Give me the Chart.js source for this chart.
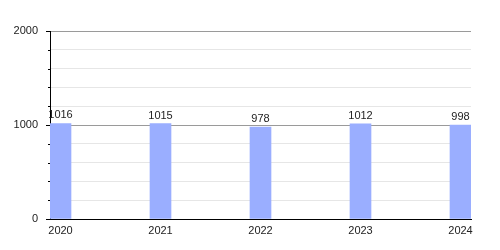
<!DOCTYPE html>
<html>
<head>
<meta charset="utf-8">
<script src="https://cdn.jsdelivr.net/npm/chart.js@4.4.0/dist/chart.umd.min.js"></script>
<style>
    html, body { margin: 0; padding: 0; background: #fff; }
    canvas { display: block; }
</style>
</head>
<body>
<canvas id="chart" width="500" height="250"></canvas>
<script>
const years = [2020, 2021, 2022, 2023, 2024];
const values = [1016, 1015, 978, 1012, 998];
const yMax = 2000;
const yMajorStep = 1000;
const yMinorStep = 200;

// value labels above bars + short minor tick marks on the y axis
const valueLabels = {
    id: 'valueLabels',
    afterDatasetsDraw(chart) {
        const ctx = chart.ctx;
        const meta = chart.getDatasetMeta(0);
        ctx.save();
        ctx.font = '11px "Liberation Sans", Arial, sans-serif';
        ctx.fillStyle = '#222';
        ctx.textAlign = 'center';
        ctx.textBaseline = 'alphabetic';
        meta.data.forEach((bar, i) => {
            ctx.fillText(String(values[i]), bar.x, bar.y - 5);
        });

        const y = chart.scales.y;
        const left = chart.chartArea.left;
        ctx.strokeStyle = '#000';
        ctx.lineWidth = 1;
        ctx.beginPath();
        for (let v = yMinorStep; v < yMax; v += yMinorStep) {
            if (v % yMajorStep === 0) continue;
            const py = Math.round(y.getPixelForValue(v)) + 0.5;
            ctx.moveTo(left - 2, py);
            ctx.lineTo(left, py);
        }
        ctx.stroke();
        ctx.restore();
    },
};

Chart.defaults.font.family = '"Liberation Sans", Arial, sans-serif';
Chart.defaults.font.size = 11;
Chart.defaults.color = '#222';

new Chart(document.getElementById('chart'), {
    type: 'bar',
    data: {
        datasets: [{
            data: years.map((yr, i) => ({ x: yr, y: values[i] })),
            backgroundColor: '#9aaeff',
            borderWidth: 0,
            barThickness: 21,
        }],
    },
    options: {
        responsive: false,
        animation: false,
        layout: {
            padding: { top: 31, right: 29, bottom: 0, left: 0 },
        },
        plugins: {
            legend: { display: false },
            tooltip: { enabled: false },
        },
        scales: {
            x: {
                type: 'linear',
                offset: false,
                min: 2019.895,
                max: 2024.105,
                afterFit: (scale) => { scale.height = 31; },
                grid: { display: false, drawTicks: false, offset: false },
                border: { display: true, color: '#000', width: 1 },
                ticks: {
                    stepSize: 1,
                    includeBounds: false,
                    autoSkip: false,
                    maxRotation: 0,
                    padding: 5,
                    callback: (v) => String(v),
                },
            },
            y: {
                min: 0,
                max: yMax,
                afterFit: (scale) => { scale.width = 50; },
                grid: {
                    color: (c) => (c.tick && c.tick.value % yMajorStep === 0 ? '#9a9a9a' : '#e6e6e6'),
                    tickColor: (c) => (c.tick && c.tick.value % yMajorStep === 0 ? '#000' : 'rgba(0,0,0,0)'),
                    tickLength: 4,
                },
                border: { display: true, color: '#000', width: 1 },
                ticks: {
                    stepSize: yMinorStep,
                    padding: 8,
                    autoSkip: false,
                    callback: (v) => (v % yMajorStep === 0 ? String(v) : ''),
                },
            },
        },
    },
    plugins: [valueLabels],
});
</script>
</body>
</html>
